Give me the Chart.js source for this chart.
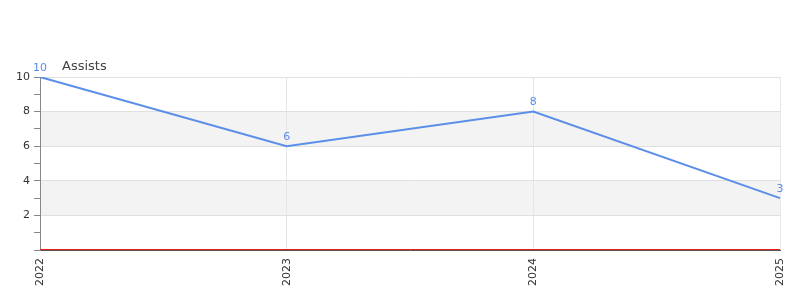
<!DOCTYPE html>
<html>
<head>
<meta charset="utf-8">
<script src="https://cdn.jsdelivr.net/npm/chart.js@4/dist/chart.umd.min.js"></script>
<style>
  html, body { margin: 0; padding: 0; background: #fff; }
  #wrap { width: 800px; height: 300px; }
</style>
</head>
<body>
<div id="wrap"><canvas id="chart"></canvas></div>
<script>
const years = ['2022', '2023', '2024', '2025'];
const assists = [10, 6, 8, 3];
const baseline = [0, 0, 0, 0];
const chartTitle = 'Assists';

const font = 'DejaVu Sans';

// gray bands between 2-4 and 6-8
const bands = {
  id: 'bands',
  beforeDraw(chart) {
    const { ctx, chartArea, scales } = chart;
    const y = scales.y;
    ctx.save();
    ctx.fillStyle = '#f3f3f3';
    [[2, 4], [6, 8]].forEach(([a, b]) => {
      const top = y.getPixelForValue(b);
      const bot = y.getPixelForValue(a);
      ctx.fillRect(chartArea.left, top, chartArea.right - chartArea.left, bot - top);
    });
    ctx.restore();
  }
};

const labelsAndTitle = {
  id: 'labelsAndTitle',
  afterDatasetsDraw(chart) {
    const { ctx, chartArea } = chart;
    ctx.save();
    ctx.font = '13px "' + font + '"';
    ctx.fillStyle = '#444';
    ctx.textAlign = 'left';
    ctx.textBaseline = 'middle';
    ctx.fillText(chartTitle, chartArea.left + 22, chartArea.top - 10);

    const meta = chart.getDatasetMeta(0);
    ctx.font = '11px "' + font + '"';
    ctx.fillStyle = '#5b8ee8';
    ctx.textAlign = 'center';
    meta.data.forEach((pt, i) => {
      ctx.fillText(String(assists[i]), pt.x, pt.y - 9);
    });
    ctx.restore();
  }
};

new Chart(document.getElementById('chart'), {
  type: 'line',
  data: {
    labels: years,
    datasets: [{
      label: 'Assists',
      data: assists,
      borderColor: '#5b8ee8',
      borderWidth: 2,
      pointRadius: 0,
      tension: 0,
      fill: false
    }, {
      label: 'base',
      data: baseline,
      borderColor: '#e8201c',
      borderWidth: 2,
      pointRadius: 0,
      fill: false
    }]
  },
  options: {
    responsive: true,
    maintainAspectRatio: false,
    animation: false,
    layout: { padding: { top: 77, right: 0, left: 0, bottom: 0 } },
    plugins: {
      legend: { display: false },
      title: { display: false },
      tooltip: { enabled: false }
    },
    scales: {
      x: {
        z: 1,
        grid: { color: '#e6e6e6', drawTicks: false },
        border: { color: '#555' },
        ticks: {
          color: '#333',
          font: { family: font, size: 11 },
          minRotation: 90,
          maxRotation: 90,
          padding: 8
        },
        afterFit(scale) {
          scale.height = 50;
          scale.paddingRight = 20;
          scale.paddingLeft = 0;
        }
      },
      y: {
        min: 0,
        max: 10,
        grid: {
          color: ctx => (ctx.tick && ctx.tick.value % 2 === 0 && ctx.tick.value !== 0) ? '#e0e0e0' : 'rgba(0,0,0,0)',
          tickColor: '#888',
          tickLength: 6
        },
        border: { color: '#888' },
        ticks: {
          stepSize: 1,
          color: '#333',
          font: { family: font, size: 11 },
          padding: 4,
          callback: v => (v % 2 === 0 && v !== 0) ? v : ''
        },
        afterFit(scale) { scale.width = 40; }
      }
    }
  },
  plugins: [bands, labelsAndTitle]
});
</script>
</body>
</html>
